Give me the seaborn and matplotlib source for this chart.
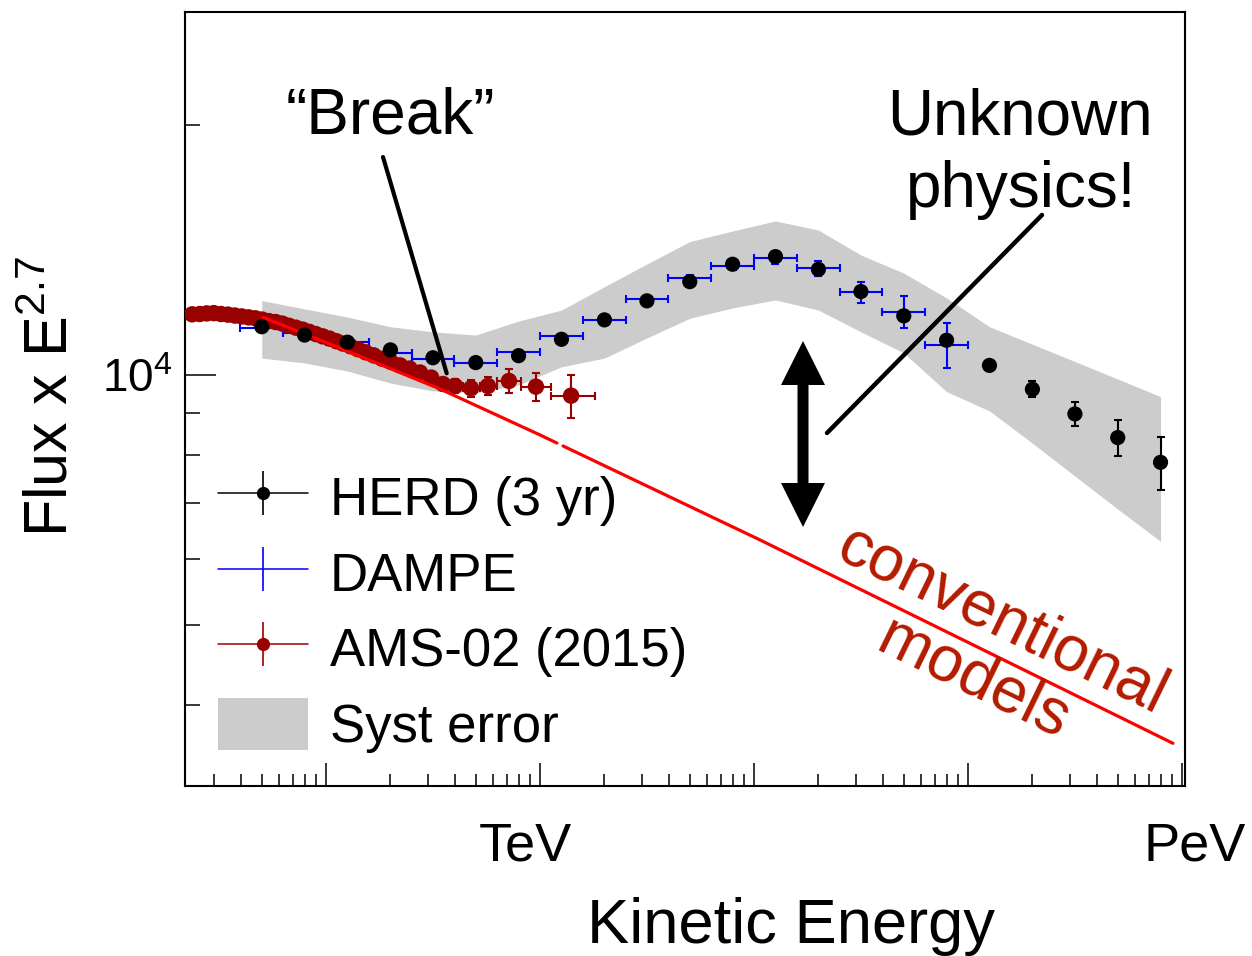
import numpy as np
import pandas as pd
import matplotlib
matplotlib.use("Agg")
import matplotlib.pyplot as plt
import seaborn as sns
from matplotlib.lines import Line2D
from matplotlib.patches import Patch, FancyArrow
from matplotlib.legend_handler import HandlerTuple
from matplotlib.ticker import LogLocator, NullFormatter, FixedLocator, FixedFormatter
from matplotlib.transforms import ScaledTranslation, IdentityTransform

# ---------------- data (energy in GeV, flux x E^2.7 arbitrary units) ----------------
herd_E = [50.1, 79.4, 126, 200, 316, 501, 794, 1260, 2000, 3160, 5010, 7940,
          12600, 20000, 31600, 50100, 79400, 126000, 200000, 316000, 501000, 794000]
herd_F = [11420, 11160, 10940, 10710, 10480, 10340, 10540, 11030, 11640, 12270, 12940, 13580,
          13870, 13390, 12590, 11770, 11000, 10260, 9604, 8969, 8400, 7843]
herd_err = [40, 40, 40, 40, 40, 40, 40, 40, 40, 50, 50, 50,
            50, 60, 60, 70, 80, 100, 212, 296, 417, 580]

syst_hi = [12280, 12000, 11730, 11420, 11260, 11160, 11600, 11960, 12760, 13590, 14460, 14890,
           15310, 14930, 13930, 13250, 12370, 11420, 10880, 10370, 9880, 9410]
syst_lo = [10470, 10330, 10100, 9770, 9560, 9510, 9720, 10220, 10470, 11070, 11690, 12030,
           12300, 11960, 11260, 10620, 9540, 9045, 8270, 7550, 6890, 6300]

dampe_E = [50.1, 79.4, 126, 200, 316, 501, 794, 1260, 2000, 3160, 5010, 7940,
           12600, 20000, 31600, 50100, 79400]
dampe_F = [11370, 11215, 10940, 10610, 10436, 10340, 10650, 11130, 11630, 12330, 13080, 13510,
           13810, 13430, 12560, 11900, 10860]
dampe_err = [40, 40, 40, 40, 40, 50, 50, 60, 70, 90, 110, 135,
             231, 290, 364, 523, 684]
dampe_edges = [39.8, 63.1, 100, 158, 251, 398, 631, 1000, 1585, 2512, 3981, 6310,
               10000, 15850, 25120, 39810, 63100, 100000]

ams_E = [23.7, 25.7, 27.7, 29.9, 32.3, 34.8, 37.5, 40.4, 43.5, 46.8, 50.3, 54.1, 58.2, 62.5,
         67.2, 72.3, 77.7, 83.5, 89.7, 96.5, 104, 112, 120, 130, 141, 153, 167, 183, 201,
         222, 246, 275, 310, 352, 401, 476, 571, 716, 957, 1397]
ams_F = [11820, 11830, 11850, 11860, 11830, 11810, 11780, 11750, 11720, 11690, 11650, 11600,
         11570, 11520, 11450, 11390, 11330, 11260, 11190, 11120, 11050, 10970, 10900, 10820,
         10730, 10640, 10550, 10450, 10360, 10260, 10170, 10060, 9920, 9745, 9692, 9630, 9692,
         9827, 9674, 9435]
ams_err = [60, 60, 60, 60, 60, 60, 60, 60, 60, 60, 60, 60, 60, 60, 60, 60, 60, 60, 60, 60,
           60, 60, 60, 60, 60, 60, 60, 60, 60, 60, 60, 60, 70, 160, 190, 220, 240, 320, 380, 560]
ams_edges = [22.8, 24.7, 26.7, 28.8, 31.1, 33.5, 36.1, 38.9, 41.9, 45.1, 48.5, 52.2, 56.1,
             60.3, 64.8, 69.7, 74.9, 80.5, 86.5, 93.0, 100, 108, 116, 125, 135, 147, 160,
             175, 192, 211, 233, 259, 291, 330, 379, 438, 524, 628, 812, 1130, 1807]

# conventional model, drawn in two pieces (small gap in the original curve)
model_low_E = [50.8, 100, 199, 341, 1000, 1200]
model_low_F = [11724, 10933, 10173, 9611, 8461, 8273]
model_high_E = [1281, 10660, 907600]
model_high_F = [8207, 6326, 3600]

x_limits = (21.93, 1.033e6)
y_limits = (3201, 27320)
x_major = [100, 1e3, 1e4, 1e5, 1e6]
x_major_labels = ["", "TeV", "", "", "PeV"]
legend_labels = ["HERD (3 yr)", "DAMPE", "AMS-02 (2015)", "Syst error"]

# ---------------- style ----------------
sns.set_theme(style="white")
plt.rcParams["font.family"] = ["Liberation Sans", "DejaVu Sans"]
plt.rcParams["mathtext.fontset"] = "custom"
plt.rcParams["mathtext.rm"] = "Liberation Sans"
plt.rcParams["mathtext.it"] = "Liberation Sans:italic"
plt.rcParams["mathtext.bf"] = "Liberation Sans:bold"
plt.rcParams["mathtext.default"] = "regular"
for k in ("text.color", "axes.labelcolor", "xtick.color", "ytick.color", "axes.edgecolor"):
    plt.rcParams[k] = "black"

W, H, DPI = 1252, 956, 100
def fx(px):
    return px / W
def fy(py):
    return 1 - py / H

BLACK = "#000000"
BLUE = "#0000ff"
AMSRED = "#990000"
MODELRED = "#ff0000"
TEXTRED = "#b31b00"
GREY = "#cccccc"

fig = plt.figure(figsize=(W / DPI, H / DPI), dpi=DPI)
fig.patch.set_facecolor("white")
ax = fig.add_axes([fx(185), fy(785.7), fx(1185) - fx(185), fy(12) - fy(785.7)])
ax.set_facecolor("white")
ax.set_xscale("log")
ax.set_yscale("log")

# systematic band
ax.fill_between(herd_E, syst_lo, syst_hi, color=GREY, lw=0, zorder=1)

# DAMPE
dE = np.array(dampe_E)
de = np.array(dampe_edges)
ax.errorbar(dampe_E, dampe_F, xerr=[dE - de[:-1], de[1:] - dE], yerr=dampe_err,
            fmt="none", ecolor=BLUE, elinewidth=1.5, capsize=3, capthick=1.5, zorder=3)

# AMS-02
aE = np.array(ams_E)
ae = np.array(ams_edges)
ax.errorbar(ams_E, ams_F, xerr=[aE - ae[:-1], ae[1:] - aE], yerr=ams_err,
            fmt="none", ecolor=AMSRED, elinewidth=1.5, capsize=3, capthick=1.5, zorder=4)
sns.scatterplot(x=ams_E, y=ams_F, color=AMSRED, s=140, edgecolor="none", linewidth=0,
                zorder=5, ax=ax, legend=False)

# conventional model line
for mE, mF in ((model_low_E, model_low_F), (model_high_E, model_high_F)):
    sns.lineplot(x=mE, y=mF, color=MODELRED, lw=2.3, sort=False, estimator=None,
                 zorder=6, ax=ax, legend=False)

# HERD
ax.errorbar(herd_E, herd_F, yerr=herd_err, fmt="none", ecolor=BLACK, elinewidth=1.5,
            capsize=3, capthick=1.5, zorder=7)
sns.scatterplot(x=herd_E, y=herd_F, color=BLACK, s=120, edgecolor="none", linewidth=0,
                zorder=8, ax=ax, legend=False)

# axes
ax.set_xlim(*x_limits)
ax.set_ylim(*y_limits)
ax.set_xlabel("")
ax.set_ylabel("")
ax.xaxis.set_major_locator(FixedLocator(x_major))
ax.xaxis.set_major_formatter(FixedFormatter(x_major_labels))
ax.xaxis.set_minor_locator(LogLocator(base=10, subs=np.arange(2, 10)))
ax.xaxis.set_minor_formatter(NullFormatter())
ax.yaxis.set_major_locator(FixedLocator([1e4]))
ax.yaxis.set_major_formatter(FixedFormatter(["10$^{4}$"]))
ax.yaxis.set_minor_locator(LogLocator(base=10, subs=np.arange(2, 10)))
ax.yaxis.set_minor_formatter(NullFormatter())

ax.tick_params(axis="x", which="major", direction="in", length=16.5, width=1.1,
               labelsize=39, pad=26, colors=BLACK, top=False, bottom=True)
ax.tick_params(axis="x", which="minor", direction="in", length=8.6, width=1.1,
               top=False, bottom=True, colors=BLACK)
ax.tick_params(axis="y", which="major", direction="in", length=22.3, width=1.1,
               labelsize=33, pad=9, colors=BLACK, left=True, right=False)
ax.tick_params(axis="y", which="minor", direction="in", length=10.8, width=1.1,
               left=True, right=False, colors=BLACK)
for sp in ax.spines.values():
    sp.set_visible(True)
    sp.set_color(BLACK)
    sp.set_linewidth(1.5)

# nudge TeV / PeV labels like the original
for lab in ax.get_xticklabels():
    if lab.get_text() == "TeV":
        lab.set_transform(lab.get_transform() + ScaledTranslation(-0.15, 0, fig.dpi_scale_trans))
    elif lab.get_text() == "PeV":
        lab.set_transform(lab.get_transform() + ScaledTranslation(0.13, 0, fig.dpi_scale_trans))

# axis titles
fig.text(fx(791), fy(943), "Kinetic Energy", ha="center", va="baseline", fontsize=45.5,
         color=BLACK)
fig.text(fx(68), fy(397), "Flux x E$^{2.7}$", ha="center", va="baseline", rotation=90,
         rotation_mode="anchor", fontsize=44, color=BLACK)

# legend
handles = [
    (Line2D([], [], color=BLACK, lw=1.1, marker="o", ms=9.5, mec="none"),
     Line2D([], [], ls="none", marker="|", ms=32, mew=1.2, color=BLACK)),
    (Line2D([], [], color=BLUE, lw=1.1),
     Line2D([], [], ls="none", marker="|", ms=32, mew=1.2, color=BLUE)),
    (Line2D([], [], color=AMSRED, lw=1.1, marker="o", ms=9.5, mec="none"),
     Line2D([], [], ls="none", marker="|", ms=32, mew=1.2, color=AMSRED)),
    Patch(facecolor=GREY, edgecolor="none"),
]
leg = ax.legend(handles, legend_labels, handler_map={tuple: HandlerTuple(ndivide=1)},
                loc="upper left", bbox_to_anchor=(fx(218), fy(471)),
                bbox_transform=fig.transFigure, frameon=False, fontsize=38,
                handlelength=1.7, handleheight=1.15, handletextpad=0.42, labelspacing=0.39,
                borderpad=0, borderaxespad=0)
for t in leg.get_texts():
    t.set_color(BLACK)

# annotations
fig.text(fx(390), fy(133), "\u201cBreak\u201d", ha="center", va="baseline", fontsize=46,
         color=BLACK)
fig.add_artist(Line2D([fx(383), fx(446.7)], [fy(157), fy(373.3)], color=BLACK, lw=3,
                      transform=fig.transFigure))
fig.text(fx(1020), fy(134), "Unknown", ha="center", va="baseline", fontsize=46, color=BLACK)
fig.text(fx(1021), fy(207), "physics!", ha="center", va="baseline", fontsize=46, color=BLACK)
fig.add_artist(Line2D([fx(827), fx(1042)], [fy(433), fy(215)], color=BLACK, lw=3.2,
                      transform=fig.transFigure))

# double-headed arrow (display pixel coordinates)
mid = H - 434
for dy in (93, -93):
    fig.add_artist(FancyArrow(803, mid, 0, dy, width=11, head_width=44, head_length=44,
                              length_includes_head=True, color=BLACK, lw=0,
                              transform=IdentityTransform()))

fig.text(fx(988), fy(650), "conventional\nmodels", ha="center", va="center", rotation=-26,
         fontsize=46, color=TEXTRED, multialignment="center", linespacing=1.12)

fig.savefig("out.png", dpi=DPI, facecolor="white")
